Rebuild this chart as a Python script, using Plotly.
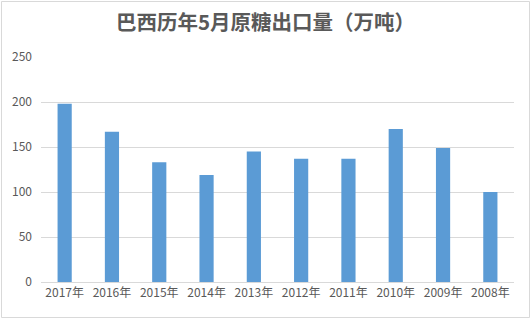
import plotly.graph_objects as go

categories = ["2017年", "2016年", "2015年", "2014年", "2013年", "2012年", "2011年", "2010年", "2009年", "2008年"]
values = [198, 167, 133, 119, 145, 137, 137, 170, 149, 100]
y_ticks = [0, 50, 100, 150, 200, 250]
title = "巴西历年5月原糖出口量（万吨）"

L, R, T, B = 41, 17, 57, 38
W, H = 531, 320
pw, ph = W - L - R, H - T - B

def px(x):
    return (x - L) / pw

def py(y):
    return (H - B - y) / ph

fig = go.Figure(go.Bar(x=categories, y=values, marker=dict(color="#5b9bd5", line=dict(width=0))))

fig.update_layout(
    width=W, height=H,
    margin=dict(l=L, r=R, t=T, b=B, pad=0),
    paper_bgcolor="white", plot_bgcolor="white",
    bargap=0.7,
    showlegend=False,
    font=dict(family="Noto Sans CJK SC, Noto Sans, sans-serif", color="#595959", size=12),
    title=dict(text="<b>" + title + "</b>", x=0.5, xanchor="center", y=1 - 23 / H, yanchor="middle",
               font=dict(size=20.5, color="#595959", family="Noto Sans CJK SC")),
    xaxis=dict(showgrid=False, showline=True, linecolor="#d9d9d9", linewidth=1, ticks="",
               tickfont=dict(size=12, color="#595959"), fixedrange=True),
    yaxis=dict(range=[0, 250], tickvals=y_ticks, showgrid=True, gridcolor="#d9d9d9", gridwidth=1,
               zeroline=False, showline=False, ticks="", ticklabelstandoff=8,
               tickfont=dict(size=12, color="#595959"), fixedrange=True),
    shapes=[dict(type="rect", xref="paper", yref="paper",
                 x0=px(1.5), x1=px(529.5), y0=py(317.5), y1=py(1.5),
                 line=dict(color="#d9d9d9", width=1), fillcolor="rgba(0,0,0,0)", layer="below")],
)

fig.write_html("out.html")
